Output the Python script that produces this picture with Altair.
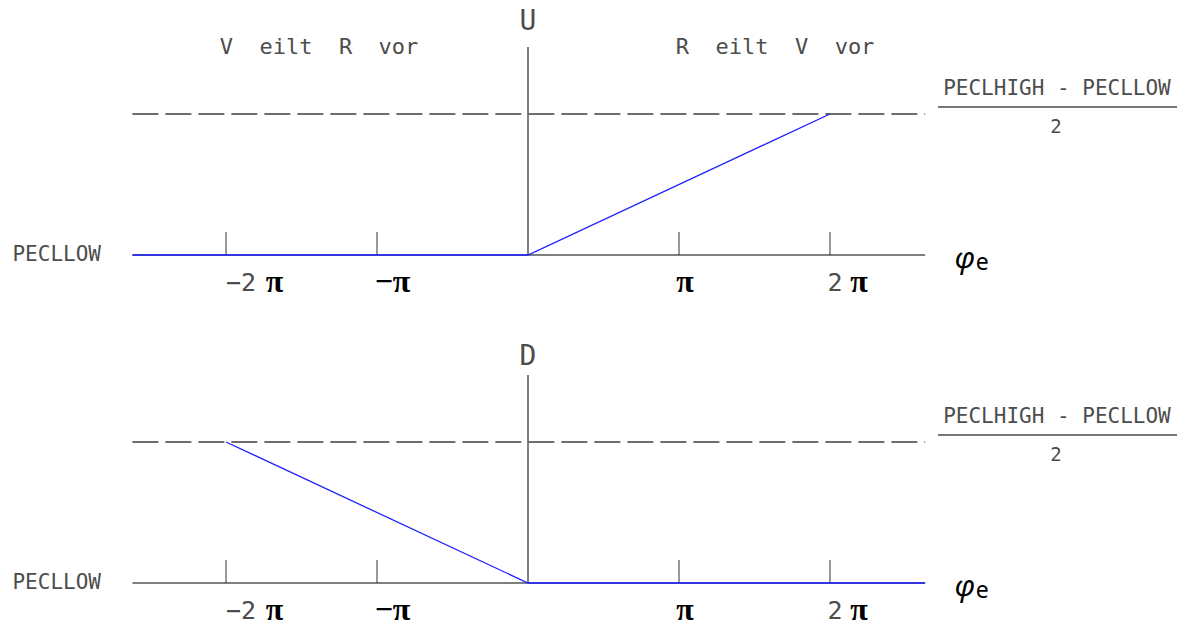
import altair as alt
import pandas as pd

# Phase axis, in multiples of pi
PHI_MIN, PHI_MAX = -2.62, 2.63
TICKS = [-2, -1, 1, 2]
TICK_DIGITS = ["−2", "", "", "2"]
TICK_PI = ["π", "−π", "π", "π"]

# Output levels: 0 = PECLLOW, 1 = (PECLHIGH - PECLLOW) / 2
U_PHI = [-2.62, 0, 2]
U_VAL = [0, 0, 1]
D_PHI = [-2, 0, 2.63]
D_VAL = [1, 0, 0]

LOW_LABEL = "PECLLOW"
LEVEL_NUM = "PECLHIGH - PECLLOW"
LEVEL_DEN = "2"
LEFT_HEAD = "V\u00a0\u00a0eilt\u00a0\u00a0R\u00a0\u00a0vor"
RIGHT_HEAD = "R\u00a0\u00a0eilt\u00a0\u00a0V\u00a0\u00a0vor"

# Layout: both diagrams share one canvas, the lower one shifted down
W, H = 1184, 631
PX = 151.0                 # pixels per pi
PY = 141.0                 # pixels per level unit
ORIGIN_X, ORIGIN_Y = 528, 255
X_DOM = [-ORIGIN_X / PX, (W - ORIGIN_X) / PX]
Y_DOM = [(ORIGIN_Y - H) / PY, ORIGIN_Y / PY]
PANEL_SHIFT = -328 / PY    # lower diagram baseline
PANELS = [("U", 1.65, U_PHI, U_VAL, 0.0), ("D", 1.60, D_PHI, D_VAL, PANEL_SHIFT)]

AXIS_TOP = 1.475
TICK_LEN = 0.163
DIGIT_SHIFT = [15, 0, 0, 5]            # px right of the tick
PI_SHIFT = [48.5, 15.5, 6, 29]
CAD = "DejaVu Sans Mono"
CAD_COLOR = "#4d4d4d"
GREY = "#555"

xs = alt.Scale(domain=X_DOM, nice=False, zero=False)
ys = alt.Scale(domain=Y_DOM, nice=False, zero=False)


def X(f):
    return alt.X(f"{f}:Q", scale=xs, axis=None)


def Y(f):
    return alt.Y(f"{f}:Q", scale=ys, axis=None)


def rules(rows, color, width, dash=None):
    kw = dict(color=color, strokeWidth=width)
    if dash:
        kw["strokeDash"] = dash
    df = pd.DataFrame(rows, columns=["x", "x2", "y", "y2"])
    return alt.Chart(df).mark_rule(**kw).encode(
        x=X("x"), x2=alt.X2("x2:Q"), y=Y("y"), y2=alt.Y2("y2:Q")
    )


def texts(rows, **style):
    df = pd.DataFrame(rows, columns=["x", "y", "t"])
    return alt.Chart(df).mark_text(**style).encode(x=X("x"), y=Y("y"), text="t:N")


base_rows, dash_rows, axis_rows, tick_rows, bar_rows = [], [], [], [], []
name_rows, low_rows, num_rows, den_rows = [], [], [], []
digit_rows, pi_rows, phi_rows, e_rows = [], [], [], []
curves = []
for name, name_y, phi, val, b in PANELS:
    base_rows.append([PHI_MIN, PHI_MAX, b, b])
    dash_rows.append([PHI_MIN, PHI_MAX, b + 1, b + 1])
    axis_rows.append([0, 0, b, b + AXIS_TOP])
    tick_rows += [[t, t, b, b + TICK_LEN] for t in TICKS]
    bar_rows.append([2.715, 4.298, b + 1.05, b + 1.05])
    name_rows.append([0, b + name_y, name])
    low_rows.append([-3.121, b, LOW_LABEL])
    num_rows.append([3.503, b + 1.174, LEVEL_NUM])
    den_rows.append([3.497, b + 0.905, LEVEL_DEN])
    digit_rows += [[t + s / PX, b - 0.2, d] for t, d, s in zip(TICKS, TICK_DIGITS, DIGIT_SHIFT) if d]
    pi_rows += [[t + s / PX, b - 0.195, p] for t, p, s in zip(TICKS, TICK_PI, PI_SHIFT)]
    phi_rows.append([2.825, b - 0.028, "φ"])
    e_rows.append([2.965, b - 0.06, "e"])
    curves.append(pd.DataFrame({"phi": phi, "v": [v + b for v in val], "panel": name}))

curve_df = pd.concat(curves, ignore_index=True)

layers = [
    rules(base_rows, GREY, 1.6),
    rules(dash_rows, "#6e6e6e", 2, [26, 7]),
    rules(axis_rows, GREY, 1.5),
    rules(tick_rows, "#333", 1),
    rules(bar_rows, "#777", 2),
    alt.Chart(curve_df).mark_line(color="#1f1fff", strokeWidth=1.3).encode(
        x=X("phi"), y=Y("v"), detail="panel:N", order="phi:Q"
    ),
    texts(name_rows, font=CAD, fontSize=28, color=CAD_COLOR, align="center", baseline="middle"),
    texts(low_rows, font=CAD, fontSize=21, color=CAD_COLOR, align="center", baseline="middle"),
    texts(num_rows, font=CAD, fontSize=21, color=CAD_COLOR, align="center", baseline="middle"),
    texts(den_rows, font=CAD, fontSize=19, color=CAD_COLOR, align="center", baseline="middle"),
    texts(digit_rows, font=CAD, fontSize=25, color=CAD_COLOR, align="center", baseline="middle"),
    texts(pi_rows, font="Liberation Serif", fontWeight="bold", fontSize=32, color="black",
          align="center", baseline="middle"),
    texts(phi_rows, font="Noto Sans", fontStyle="italic", fontSize=30, color="black",
          align="left", baseline="middle"),
    texts(e_rows, font="Noto Sans", fontSize=23, color="black", align="left", baseline="middle"),
    texts([[-1.384, 1.475, LEFT_HEAD], [1.636, 1.475, RIGHT_HEAD]],
          font=CAD, fontSize=22, color=CAD_COLOR, align="center", baseline="middle"),
]

chart = (
    alt.layer(*layers)
    .properties(
        width=W, height=H,
        autosize=alt.AutoSizeParams(type="none"),
        padding=0,
        background="white",
    )
    .configure_view(stroke=None)
)

chart.save("out.html", embed_options={"renderer": "svg", "actions": False})
